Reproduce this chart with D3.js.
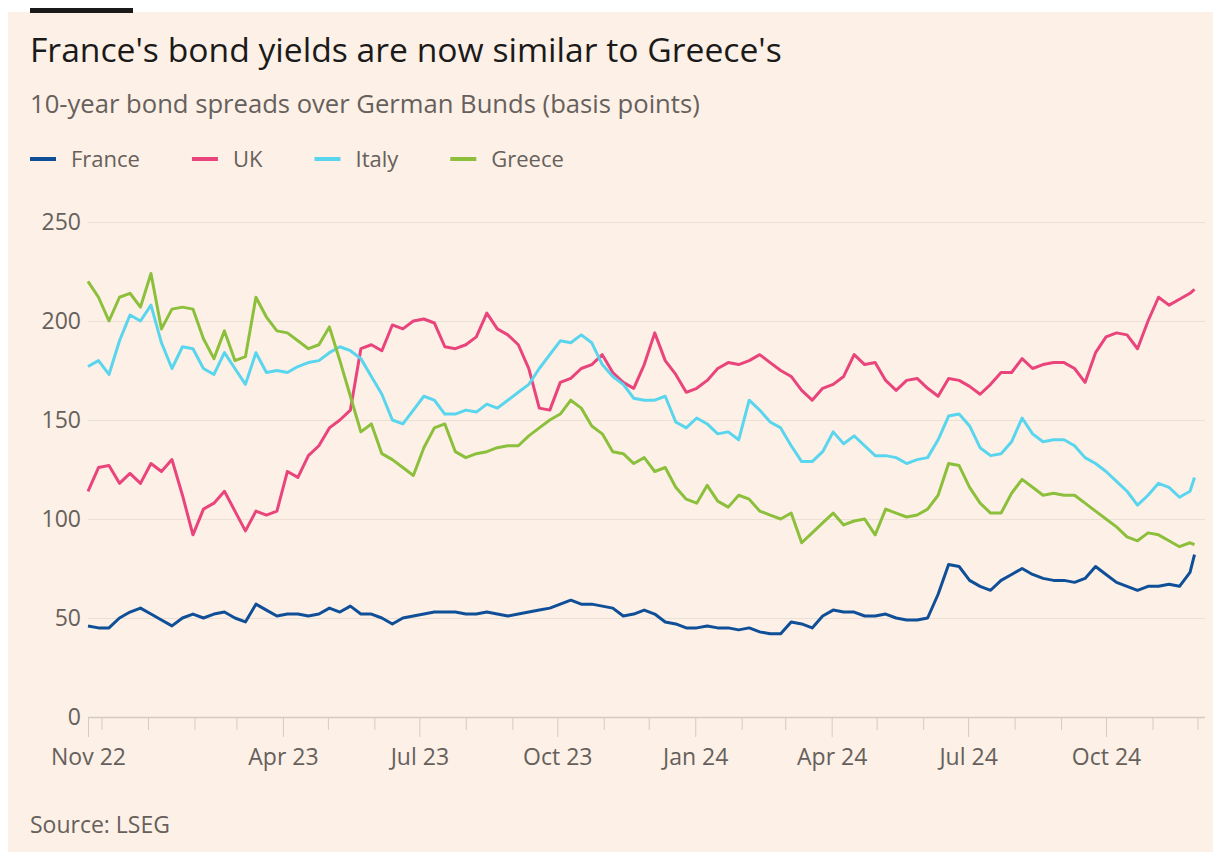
<!DOCTYPE html>
<html>
<head>
<meta charset="utf-8">
<script src="https://cdn.jsdelivr.net/npm/d3@7"></script>
<style>
  body { margin: 0; background: #fff; }
  svg text { font-family: "Open Sans", Roboto, sans-serif; }
</style>
</head>
<body>
<svg id="spreads" width="1216" height="852"></svg>
<script>
// weekly readings, 22 Nov 2022 onwards, plus the last day shown
const firstWeek = new Date(2022, 10, 22);
const weekCount = 106;
const lastDay = new Date(2024, 10, 29);

const seriesNames = ["France", "UK", "Italy", "Greece"];

const france = [
  46, 45, 45, 50, 53, 55, 52, 49, 46, 50,
  52, 50, 52, 53, 50, 48, 57, 54, 51, 52,
  52, 51, 52, 55, 53, 56, 52, 52, 50, 47,
  50, 51, 52, 53, 53, 53, 52, 52, 53, 52,
  51, 52, 53, 54, 55, 57, 59, 57, 57, 56,
  55, 51, 52, 54, 52, 48, 47, 45, 45, 46,
  45, 45, 44, 45, 43, 42, 42, 48, 47, 45,
  51, 54, 53, 53, 51, 51, 52, 50, 49, 49,
  50, 62, 77, 76, 69, 66, 64, 69, 72, 75,
  72, 70, 69, 69, 68, 70, 76, 72, 68, 66,
  64, 66, 66, 67, 66, 73, 82
];
const uk = [
  114, 126, 127, 118, 123, 118, 128, 124, 130, 112,
  92, 105, 108, 114, 104, 94, 104, 102, 104, 124,
  121, 132, 137, 146, 150, 155, 186, 188, 185, 198,
  196, 200, 201, 199, 187, 186, 188, 192, 204, 196,
  193, 188, 176, 156, 155, 169, 171, 176, 178, 183,
  174, 169, 166, 178, 194, 180, 173, 164, 166, 170,
  176, 179, 178, 180, 183, 179, 175, 172, 165, 160,
  166, 168, 172, 183, 178, 179, 170, 165, 170, 171,
  166, 162, 171, 170, 167, 163, 168, 174, 174, 181,
  176, 178, 179, 179, 176, 169, 184, 192, 194, 193,
  186, 200, 212, 208, 211, 214, 216
];
const italy = [
  177, 180, 173, 190, 203, 200, 208, 189, 176, 187,
  186, 176, 173, 184, 176, 168, 184, 174, 175, 174,
  177, 179, 180, 184, 187, 185, 181, 172, 163, 150,
  148, 155, 162, 160, 153, 153, 155, 154, 158, 156,
  160, 164, 168, 176, 183, 190, 189, 193, 189, 178,
  172, 168, 161, 160, 160, 162, 149, 146, 151, 148,
  143, 144, 140, 160, 155, 149, 146, 137, 129, 129,
  134, 144, 138, 142, 137, 132, 132, 131, 128, 130,
  131, 140, 152, 153, 147, 136, 132, 133, 139, 151,
  143, 139, 140, 140, 137, 131, 128, 124, 119, 114,
  107, 112, 118, 116, 111, 114, 121
];
const greece = [
  220, 212, 200, 212, 214, 207, 224, 196, 206, 207,
  206, 191, 181, 195, 180, 182, 212, 202, 195, 194,
  190, 186, 188, 197, 180, 162, 144, 148, 133, 130,
  126, 122, 136, 146, 148, 134, 131, 133, 134, 136,
  137, 137, 142, 146, 150, 153, 160, 156, 147, 143,
  134, 133, 128, 131, 124, 126, 116, 110, 108, 117,
  109, 106, 112, 110, 104, 102, 100, 103, 88, 93,
  98, 103, 97, 99, 100, 92, 105, 103, 101, 102,
  105, 112, 128, 127, 116, 108, 103, 103, 113, 120,
  116, 112, 113, 112, 112, 108, 104, 100, 96, 91,
  89, 93, 92, 89, 86, 88, 87
];

const yTicks = [0, 50, 100, 150, 200, 250];
const xLabelDates = [new Date(2022, 10, 22), new Date(2023, 3, 1), new Date(2023, 6, 1), new Date(2023, 9, 1),
                     new Date(2024, 0, 1), new Date(2024, 3, 1), new Date(2024, 6, 1), new Date(2024, 9, 1)];
const xLabels = ["Nov 22", "Apr 23", "Jul 23", "Oct 23", "Jan 24", "Apr 24", "Jul 24", "Oct 24"];

const colors = ["#0f4f98", "#e9457c", "#5ad5ee", "#8cc03c"];

const svg = d3.select("svg#spreads");
const gray = "#66605c";

// shrink/grow a text's font so it spans the given width
function fitWidth(sel, target) {
  const fs = +sel.attr("font-size");
  const w = sel.node().getComputedTextLength();
  sel.attr("font-size", (fs * target / w).toFixed(2));
}

// FT style panel
svg.append("rect").attr("x", 8).attr("y", 12).attr("width", 1205).attr("height", 840).attr("fill", "#fdf0e6");
svg.append("rect").attr("x", 30).attr("y", 8).attr("width", 103).attr("height", 5).attr("fill", "#1a1a1a");

svg.append("text").attr("x", 30).attr("y", 62)
  .attr("font-size", 32).attr("fill", "#1b1a1a")
  .text("France's bond yields are now similar to Greece's")
  .call(fitWidth, 752);
svg.append("text").attr("x", 30).attr("y", 113)
  .attr("font-size", 24).attr("fill", gray)
  .text("10-year bond spreads over German Bunds (basis points)")
  .call(fitWidth, 670);

// legend
const legend = svg.append("g").attr("transform", "translate(30,159)");
let lx = 0;
seriesNames.forEach((name, i) => {
  legend.append("rect").attr("x", lx).attr("y", -2).attr("width", 26).attr("height", 4).attr("fill", colors[i]);
  const t = legend.append("text").attr("x", lx + 41).attr("y", 8)
    .attr("font-size", 22).attr("fill", gray).text(name);
  lx += 41 + t.node().getComputedTextLength() + 52;
});

// scales
const x = d3.scaleTime()
  .domain([new Date(2022, 10, 22), new Date(2024, 11, 6)])
  .range([88, 1205]);
const y = d3.scaleLinear().domain([0, 250]).range([717, 222]);

// gridlines + y labels
const grid = svg.append("g").attr("transform", "translate(88,0)")
  .call(d3.axisLeft(y).tickValues(yTicks).tickSize(-(1205 - 88)).tickFormat(""));
grid.select(".domain").remove();
grid.selectAll(".tick line").attr("stroke", d => d === 0 ? "#d6cbc2" : "#ebe0d6").attr("stroke-width", d => d === 0 ? 1.5 : 1);

const yAxis = svg.append("g").attr("transform", "translate(81,0)")
  .call(d3.axisLeft(y).tickValues(yTicks).tickSize(0).tickPadding(0));
yAxis.select(".domain").remove();
yAxis.selectAll("text").attr("font-size", 23).attr("fill", gray).attr("font-family", "'Open Sans', sans-serif");

// x axis: monthly ticks, longer at labelled ones
const months = d3.timeMonth.range(new Date(2022, 11, 1), new Date(2024, 11, 2));
const tickDates = [x.domain()[0]].concat(months);
const isLabelled = d => xLabelDates.some(l => +l === +d);
const xAxis = svg.append("g").attr("transform", "translate(0,717)")
  .call(d3.axisBottom(x).tickValues(tickDates).tickSize(13)
    .tickFormat(d => {
      const k = xLabelDates.findIndex(l => +l === +d);
      return k < 0 ? "" : xLabels[k];
    }));
xAxis.select(".domain").remove();
xAxis.selectAll(".tick line").attr("stroke", "#d6cbc2").attr("y2", d => isLabelled(d) ? 20 : 13);
xAxis.selectAll(".tick text").attr("font-size", 23).attr("fill", gray)
  .attr("font-family", "'Open Sans', sans-serif").attr("y", 32);

// lines
const dates = d3.range(weekCount).map(i => d3.timeDay.offset(firstWeek, 7 * i)).concat([lastDay]);
const allSeries = [france, uk, italy, greece];
const line = d3.line().x((d, i) => x(dates[i])).y(d => y(d));
const lines = svg.append("g");
allSeries.forEach((vals, i) => {
  lines.append("path").datum(vals)
    .attr("fill", "none")
    .attr("stroke", colors[i])
    .attr("stroke-width", 3)
    .attr("stroke-linejoin", "round")
    .attr("d", line);
});

svg.append("text").attr("x", 30).attr("y", 833)
  .attr("font-size", 21).attr("fill", gray).text("Source: LSEG")
  .call(fitWidth, 140);
</script>
</body>
</html>
